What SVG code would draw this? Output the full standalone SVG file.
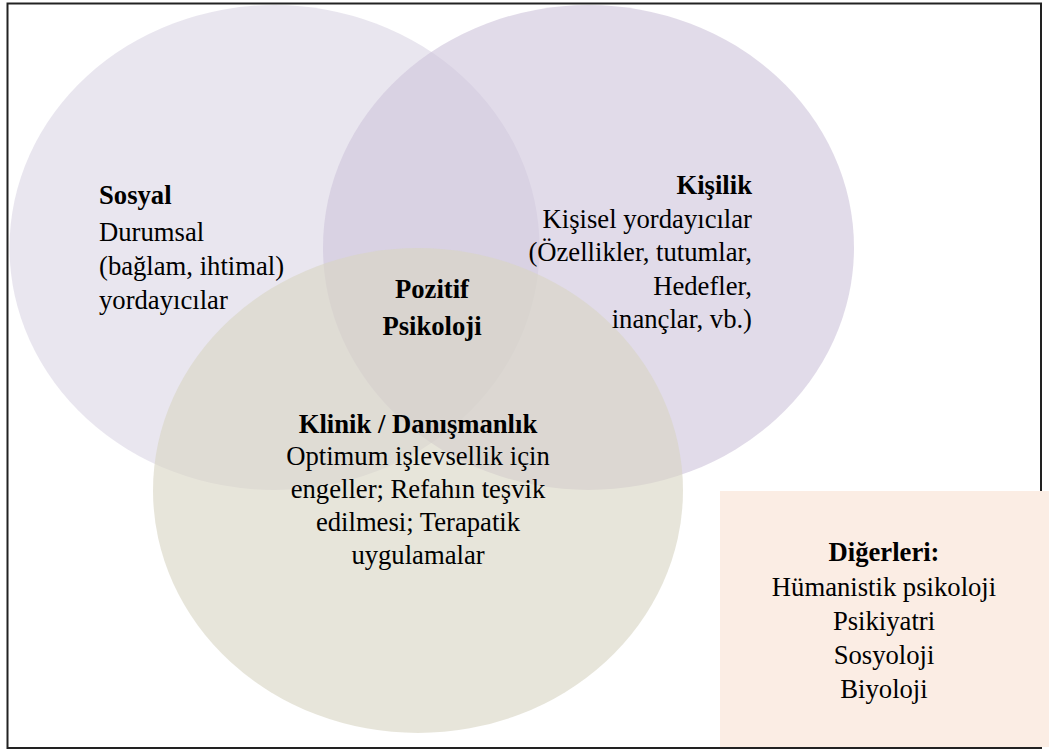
<svg xmlns="http://www.w3.org/2000/svg" width="1049" height="753" viewBox="0 0 1049 753">
  <style>
    .t { font-family: "Liberation Serif", "Times New Roman", serif; font-size: 26.67px; fill: #000; }
    .b { font-weight: bold; }
    .c { text-anchor: middle; }
    .r { text-anchor: end; }
    .circle { opacity: 0.62; }
  </style>
  <rect x="0" y="0" width="1049" height="753" fill="#ffffff"/>
  <g id="sosyal">
    <ellipse class="circle" cx="274.5" cy="247.5" rx="265" ry="242.5" fill="#DCD7E5"/>
  </g>
  <g id="kisilik">
    <ellipse class="circle" cx="588.5" cy="247.5" rx="265.5" ry="242.5" fill="#CFC5DC"/>
  </g>
  <g id="klinik">
    <ellipse class="circle" cx="418" cy="490.5" rx="265" ry="242.5" fill="#D8D5C3"/>
  </g>
  <rect id="frame" x="7.5" y="3.5" width="1033.5" height="744.5" fill="none" stroke="#222" stroke-width="2"/>
  <g id="digerleri">
    <rect x="720" y="491" width="329" height="256" fill="#FBEDE4"/>
    <text class="t b c" x="884" y="561">Diğerleri:</text>
    <text class="t c" x="884" y="596">Hümanistik psikoloji</text>
    <text class="t c" x="884" y="630">Psikiyatri</text>
    <text class="t c" x="884" y="664">Sosyoloji</text>
    <text class="t c" x="884" y="698">Biyoloji</text>
  </g>
  <g id="sosyal-text">
    <text class="t b" x="99" y="204">Sosyal</text>
    <text class="t" x="99" y="241">Durumsal</text>
    <text class="t" x="99" y="275">(bağlam, ihtimal)</text>
    <text class="t" x="99" y="309">yordayıcılar</text>
  </g>
  <g id="kisilik-text">
    <text class="t b r" x="752" y="194">Kişilik</text>
    <text class="t r" x="752" y="228">Kişisel yordayıcılar</text>
    <text class="t r" x="752" y="261">(Özellikler, tutumlar,</text>
    <text class="t r" x="752" y="295">Hedefler,</text>
    <text class="t r" x="752" y="328">inançlar, vb.)</text>
  </g>
  <g id="pozitif">
    <text class="t b c" x="432" y="298">Pozitif</text>
    <text class="t b c" x="432" y="335">Psikoloji</text>
  </g>
  <g id="klinik-text">
    <text class="t b c" x="418" y="433">Klinik / Danışmanlık</text>
    <text class="t c" x="418" y="465">Optimum işlevsellik için</text>
    <text class="t c" x="418" y="498">engeller; Refahın teşvik</text>
    <text class="t c" x="418" y="531">edilmesi; Terapatik</text>
    <text class="t c" x="418" y="564">uygulamalar</text>
  </g>
  <g id="connectors"></g>
</svg>
